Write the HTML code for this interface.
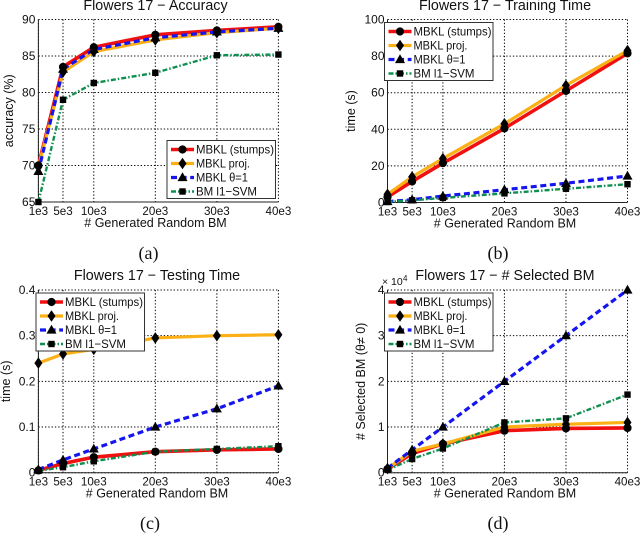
<!DOCTYPE html>
<html>
<head>
<meta charset="utf-8">
<style>
html,body{margin:0;padding:0;background:#fff;width:640px;height:533px;overflow:hidden}
svg{display:block;filter:blur(.3px)}
text{font-family:"Liberation Sans",sans-serif;fill:#111}
.cap{font-family:"Liberation Serif",serif;font-size:18px}
</style>
</head>
<body>
<svg id="fig" width="640" height="533" viewBox="0 0 640 533" xmlns="http://www.w3.org/2000/svg"></svg>
<script>
const categories = [1, 5, 10, 20, 30, 40];
const categoryLabels = ['1e3', '5e3', '10e3', '20e3', '30e3', '40e3'];
const seriesNames = ['MBKL (stumps)', 'MBKL proj.', 'MBKL θ=1', 'BM l1−SVM'];

const accuracyStumps = [70, 83.5, 86.2, 87.9, 88.5, 89];
const accuracyProj = [69.8, 82.8, 85.6, 87.2, 88.2, 88.8];
const accuracyTheta = [69.2, 83.2, 85.9, 87.5, 88.3, 88.8];
const accuracySvm = [65, 79, 81.3, 82.7, 85.1, 85.2];
const accuracyTicks = [65, 70, 75, 80, 85, 90];

const trainStumps = [3, 11.5, 21.5, 40.5, 61, 81.5];
const trainProj = [4.5, 14, 24, 43, 64, 83];
const trainTheta = [0.5, 1.5, 3.5, 7, 10.5, 14.5];
const trainSvm = [0.3, 1.2, 2.5, 5, 7.5, 10];
const trainTicks = [0, 20, 40, 60, 80, 100];

const testStumps = [0.005, 0.02, 0.034, 0.046, 0.05, 0.052];
const testProj = [0.24, 0.26, 0.27, 0.295, 0.3, 0.302];
const testTheta = [0.007, 0.028, 0.052, 0.1, 0.14, 0.19];
const testSvm = [0.004, 0.012, 0.025, 0.046, 0.052, 0.058];
const testTicks = [0, 0.1, 0.2, 0.3, 0.4];
const testTickLabels = ['0', '0.1', '0.2', '0.3', '0.4'];

const selectedStumps = [800, 4200, 6300, 9200, 9700, 9800];
const selectedProj = [900, 4700, 6300, 10000, 10600, 11000];
const selectedTheta = [1000, 5000, 10000, 20000, 30000, 40000];
const selectedSvm = [600, 3000, 5300, 11000, 11900, 17100];
const selectedTicks = [0, 10000, 20000, 30000, 40000];
const selectedTickLabels = ['0', '1', '2', '3', '4'];

const NS = 'http://www.w3.org/2000/svg';
const fig = document.getElementById('fig');
const colors = ['#f01010', '#fbb015', '#1515f0', '#109050'];
const widths = [3.6, 3.2, 3.2, 2.4];
const dashes = ['', '', '6 3.6', '5 2 1.5 2'];

function make(parent, tag, attrs, txt) {
  const el = document.createElementNS(NS, tag);
  for (const k in attrs) el.setAttribute(k, attrs[k]);
  if (txt !== undefined) el.textContent = txt;
  parent.appendChild(el);
  return el;
}

function marker(parent, kind, x, y, name) {
  let el;
  if (kind === 0) {
    el = make(parent, 'circle', {cx: x, cy: y, r: 4.1, fill: '#000'});
  } else if (kind === 1) {
    el = make(parent, 'polygon', {points: [x, y - 5.8, x + 4, y, x, y + 5.8, x - 4, y].join(','), fill: '#000'});
  } else if (kind === 2) {
    el = make(parent, 'polygon', {points: [x, y - 5.2, x + 5, y + 3.6, x - 5, y + 3.6].join(','), fill: '#000'});
  } else {
    el = make(parent, 'rect', {x: x - 3.2, y: y - 3.2, width: 6.4, height: 6.4, fill: '#000'});
  }
  
  
}

function drawPanel(p) {
  const g = make(fig, 'g', {});
  
  
  const xMin = categories[0], xMax = categories[categories.length - 1];
  const yMin = p.ticks[0], yMax = p.ticks[p.ticks.length - 1];
  const sx = v => p.left + (v - xMin) / (xMax - xMin) * (p.right - p.left);
  const sy = v => p.bottom - (v - yMin) / (yMax - yMin) * (p.bottom - p.top);

  categories.forEach((c, i) => {
    const gl = make(g, 'line', {x1: sx(c), x2: sx(c), y1: p.top, y2: p.bottom, stroke: '#000', 'stroke-width': 1, 'stroke-dasharray': '1.3 2'});
    
    
    const tk = make(g, 'text', {x: sx(c), y: p.bottom + 13, 'text-anchor': 'middle', 'font-size': 11.6}, categoryLabels[i]);
    
    
  });
  p.ticks.forEach((t, i) => {
    const gl = make(g, 'line', {x1: p.left, x2: p.right, y1: sy(t), y2: sy(t), stroke: '#000', 'stroke-width': 1, 'stroke-dasharray': '1.3 2'});
    
    
    const tk = make(g, 'text', {x: p.left - 3, y: sy(t) + 4, 'text-anchor': 'end', 'font-size': 12}, p.tickLabels ? p.tickLabels[i] : String(t));
    
    
  });
  const axis = make(g, 'path', {d: 'M' + p.left + ' ' + p.top + 'V' + p.bottom + 'H' + p.right, fill: 'none', stroke: '#222', 'stroke-width': 1});
  
  

  p.series.forEach((vals, s) => {
    const pts = vals.map((v, i) => sx(categories[i]) + ',' + sy(v)).join(' ');
    const ln = make(g, 'polyline', {points: pts, fill: 'none', stroke: colors[s], 'stroke-width': widths[s], 'stroke-dasharray': dashes[s], 'stroke-linejoin': 'round'});
    
    
  });
  p.series.forEach((vals, s) => {
    vals.forEach((v, i) => marker(g, s, sx(categories[i]), sy(v), 'series-marker'));
  });

  const title = make(g, 'text', {x: p.titleX, y: p.titleY, 'text-anchor': 'middle', 'font-size': 14.3}, p.title);
  
  
  const xt = make(g, 'text', {x: p.titleX, y: p.bottom + 25, 'text-anchor': 'middle', 'font-size': 12.5}, '# Generated Random BM');
  
  
  const midY = (p.top + p.bottom) / 2;
  const yt = make(g, 'text', {transform: 'translate(' + p.yTitleX + ',' + (midY + p.yTitleShift) + ') rotate(-90)', 'text-anchor': 'middle', 'font-size': 12.5}, p.yTitle);
  
  

  const lg = make(g, 'g', {transform: 'translate(' + p.legendX + ',' + p.legendY + ')'});
  
  
  const box = make(lg, 'rect', {x: 0, y: 0, width: 108.5, height: 58, fill: '#fff', stroke: '#333', 'stroke-width': 1});
  
  
  const rows = [9, 23, 37, 51];
  seriesNames.forEach((nm, s) => {
    const ln = make(lg, 'line', {x1: 4, x2: 27, y1: rows[s], y2: rows[s], stroke: colors[s], 'stroke-width': widths[s], 'stroke-dasharray': dashes[s]});
    
    
    marker(lg, s, 15.5, rows[s], 'legend-marker');
    const t = make(lg, 'text', {x: 29, y: rows[s] + 4.2, 'font-size': 12, textLength: s === 0 ? 78 : (s === 1 ? 54 : (s === 2 ? 52 : 61)), lengthAdjust: 'spacingAndGlyphs'}, nm);
    
    
  });

  const cap = make(g, 'text', {x: p.titleX - 7, y: p.capY, 'text-anchor': 'middle', class: 'cap'}, p.caption);
  
  
}

drawPanel({name: 'accuracy-chart', title: 'Flowers 17 − Accuracy', yTitle: 'accuracy (%)', caption: '(a)',
  left: 38.4, right: 278.4, top: 19.5, bottom: 202, ticks: accuracyTicks,
  series: [accuracyStumps, accuracyProj, accuracyTheta, accuracySvm],
  titleX: 155.5, titleY: 10, yTitleX: 13, yTitleShift: 0, legendX: 167, legendY: 140.5, capY: 259});
drawPanel({name: 'training-time-chart', title: 'Flowers 17 − Training Time', yTitle: 'time (s)', caption: '(b)',
  left: 387.5, right: 627.5, top: 19.5, bottom: 202.5, ticks: trainTicks,
  series: [trainStumps, trainProj, trainTheta, trainSvm],
  titleX: 505, titleY: 10, yTitleX: 355, yTitleShift: 0, legendX: 384.5, legendY: 22.5, capY: 259});
drawPanel({name: 'testing-time-chart', title: 'Flowers 17 − Testing Time', yTitle: 'time (s)', caption: '(c)',
  left: 38.4, right: 278.4, top: 290, bottom: 472.7, ticks: testTicks, tickLabels: testTickLabels,
  series: [testStumps, testProj, testTheta, testSvm],
  titleX: 157, titleY: 280, yTitleX: 10, yTitleShift: 0, legendX: 36, legendY: 293, capY: 529});
drawPanel({name: 'selected-bm-chart', title: 'Flowers 17 − # Selected BM', yTitle: '# Selected BM (θ≠ 0)', caption: '(d)',
  left: 387.5, right: 627.5, top: 290, bottom: 472.7, ticks: selectedTicks, tickLabels: selectedTickLabels,
  series: [selectedStumps, selectedProj, selectedTheta, selectedSvm],
  titleX: 505, titleY: 280, yTitleX: 365, yTitleShift: 0, legendX: 384.5, legendY: 293, capY: 529});

const exp = make(fig, 'text', {x: 382, y: 285, 'font-size': 10.5}, '× 10');


const exp2 = make(fig, 'text', {x: 403, y: 281, 'font-size': 8}, '4');


</script>
</body>
</html>
